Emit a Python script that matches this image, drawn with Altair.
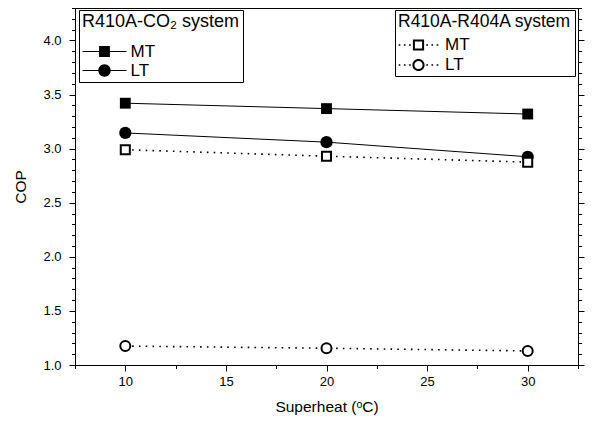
import altair as alt
import pandas as pd

# ---- data ----
superheat = [10, 20, 30]
co2_mt = [3.42, 3.37, 3.32]
co2_lt = [3.145, 3.06, 2.925]
r404_mt = [2.99, 2.93, 2.875]
r404_lt = [1.175, 1.155, 1.13]

series_names = ["MT", "LT"]
co2_title = "R410A-CO₂ system"
r404_title = "R410A-R404A system"
x_title = "Superheat (ᵒC)"
y_title = "COP"

x_ticks = [7.5, 10, 12.5, 15, 17.5, 20, 22.5, 25, 27.5, 30, 32.5]
y_ticks = [1.0, 1.1, 1.2, 1.3, 1.4, 1.5, 1.6, 1.7, 1.8, 1.9, 2.0, 2.1, 2.2,
           2.3, 2.4, 2.5, 2.6, 2.7, 2.8, 2.9, 3.0, 3.1, 3.2, 3.3, 3.4, 3.5,
           3.6, 3.7, 3.8, 3.9, 4.0, 4.1, 4.2, 4.3]

rows = []
for sysname, mt, lt in [("co2", co2_mt, co2_lt), ("r404", r404_mt, r404_lt)]:
    for s, vals in [("MT", mt), ("LT", lt)]:
        for xv, yv in zip(superheat, vals):
            rows.append(dict(system=sysname, series=s, superheat=xv, cop=yv))
df = pd.DataFrame(rows)

FONT = "Liberation Sans, Arial, sans-serif"

# ---- legend symbol paths (line + marker), filled black ----
def rect(x0, y0, x1, y1):
    return f"M{x0:.4f},{y0:.4f}H{x1:.4f}V{y1:.4f}H{x0:.4f}Z"

def rect_rev(x0, y0, x1, y1):
    return f"M{x0:.4f},{y0:.4f}V{y1:.4f}H{x1:.4f}V{y0:.4f}Z"

def circ(r, sweep):
    return (f"M{-r:.4f},0A{r:.4f},{r:.4f} 0 1,{sweep} {r:.4f},0"
            f"A{r:.4f},{r:.4f} 0 1,{sweep} {-r:.4f},0Z")

S = 16.0          # nominal legend symbol size (px), keeps rows compact
u = S / 2         # px per path unit

HW1 = 22.0        # half width of solid legend sample (px)
lh = 0.55 / u
sq1 = 5.4 / u
cr1 = 6.2 / u
e1 = HW1 / u
path_co2_mt = rect(-e1, -lh, -sq1, lh) + rect(sq1, -lh, e1, lh) + rect(-sq1, -sq1, sq1, sq1)
path_co2_lt = rect(-e1, -lh, -cr1 + 0.1, lh) + rect(cr1 - 0.1, -lh, e1, lh) + circ(cr1, 1)

HW2 = 20.0        # half width of dotted legend sample (px)
dh = 0.85 / u
dots = ""
for d in [8.6, 13.8, 19.0]:
    c = d / u
    dots += rect(-c - dh, -dh, -c + dh, dh) + rect(c - dh, -dh, c + dh, dh)
so, si = 5.6 / u, 3.6 / u
co, ci = 6.1 / u, 4.1 / u
path_r404_mt = dots + rect(-so, -so, so, so) + rect_rev(-si, -si, si, si)
path_r404_lt = dots + circ(co, 1) + circ(ci, 0)

# ---- scales & axes ----
xs = alt.Scale(domain=[7.5, 32.5], nice=False, zero=False)
ys = alt.Scale(domain=[1.0, 4.3], nice=False, zero=False)

x_major = "datum.value % 5 == 0"
y_major = "abs(datum.value * 2 - round(datum.value * 2)) < 0.0001"
x_tick = {"condition": {"test": x_major, "value": 6}, "value": 3.5}
y_tick = {"condition": {"test": y_major, "value": 6}, "value": 3.5}

common = dict(grid=False, domainColor="black", domainWidth=1, tickColor="black",
              tickWidth=1, labelFont=FONT, labelFontSize=13, labelColor="black",
              titleFont=FONT, titleFontSize=15.5, titleFontWeight="normal",
              titleColor="black", labelOverlap=False, labelFlush=False)

ax_bottom = alt.Axis(orient="bottom", values=x_ticks, tickSize=x_tick,
                     labelExpr=f"{x_major} ? format(datum.value, 'd') : ''",
                     title=x_title, labelPadding=4, titlePadding=11, **common)
ax_left = alt.Axis(orient="left", values=y_ticks, tickSize=y_tick,
                   labelExpr=f"{y_major} ? format(datum.value, '.1f') : ''",
                   title=y_title, labelPadding=8, titlePadding=14, **common)
ax_top = alt.Axis(orient="top", values=x_ticks, tickSize=x_tick, labels=False,
                  title=None, **common)
ax_right = alt.Axis(orient="right", values=y_ticks, tickSize=y_tick, labels=False,
                    title=None, **common)

base = alt.Chart(df)

axes_main = base.mark_point(opacity=0).encode(
    x=alt.X("superheat:Q", scale=xs, axis=ax_bottom),
    y=alt.Y("cop:Q", scale=ys, axis=ax_left),
)
axes_mirror = base.mark_point(opacity=0).encode(
    x=alt.X("superheat:Q", scale=xs, axis=ax_top),
    y=alt.Y("cop:Q", scale=ys, axis=ax_right),
)

def enc():
    return dict(x=alt.X("superheat:Q", scale=xs, axis=None),
                y=alt.Y("cop:Q", scale=ys, axis=None))

line_co2 = base.transform_filter(alt.datum.system == "co2").mark_line(
    color="black", strokeWidth=1).encode(detail="series:N", **enc())
line_r404 = base.transform_filter(alt.datum.system == "r404").mark_line(
    color="black", strokeWidth=1.6, strokeDash=[1.6, 5.2]).encode(detail="series:N", **enc())

def pts(sysname, s, shape, filled, size):
    m = base.transform_filter(
        (alt.datum.system == sysname) & (alt.datum.series == s))
    if filled:
        mk = m.mark_point(shape=shape, filled=True, color="black", size=size, opacity=1)
    else:
        mk = m.mark_point(shape=shape, filled=False, color="black", fill="white",
                          strokeWidth=2, size=size, opacity=1)
    return mk.encode(**enc())

p1 = pts("co2", "MT", "square", True, 118)
p2 = pts("co2", "LT", "circle", True, 150)
p3 = pts("r404", "MT", "square", False, 82)
p4 = pts("r404", "LT", "circle", False, 100)

leg_common = dict(orient="none", strokeColor="black", fillColor="white", padding=3,
                  titleFont=FONT, titleFontWeight="normal",
                  titleColor="black", labelFont=FONT, labelFontSize=17,
                  labelColor="black", symbolOpacity=1, symbolStrokeWidth=0,
                  symbolFillColor="black", cornerRadius=0, titleAnchor="start",
                  symbolSize=S * S)

leg_co2 = base.transform_filter(alt.datum.system == "co2").mark_point(
    filled=True, color="black", opacity=0, size=S * S).encode(
    shape=alt.Shape("series:N",
                    scale=alt.Scale(domain=series_names, range=[path_co2_mt, path_co2_lt]),
                    legend=alt.Legend(title=co2_title, legendX=4, legendY=2,
                                      titleFontSize=18,
                                      symbolOffset=HW1 - u,
                                      labelOffset=2 * HW1 - S - (HW1 - u) + 3.5,
                                      titlePadding=12, rowPadding=1,
                                      **leg_common)),
    **enc())
leg_r404 = base.transform_filter(alt.datum.system == "r404").mark_point(
    filled=True, color="black", opacity=0, size=S * S).encode(
    shape=alt.Shape("series:N",
                    scale=alt.Scale(domain=series_names, range=[path_r404_mt, path_r404_lt]),
                    legend=alt.Legend(title=r404_title, legendX=320, legendY=2,
                                      titleFontSize=17.5,
                                      symbolOffset=HW2 - u,
                                      labelOffset=2 * HW2 - S - (HW2 - u) + 6,
                                      titlePadding=6, rowPadding=2,
                                      **leg_common)),
    **enc())

chart = alt.layer(
    axes_main, axes_mirror, line_co2, line_r404, p1, p2, p3, p4, leg_co2, leg_r404
).resolve_scale(shape="independent").resolve_axis(
    x="independent", y="independent"
).properties(
    width=503, height=357,
    autosize=alt.AutoSizeParams(type="none"),
    padding={"left": 67, "top": 0, "right": 10, "bottom": 50},
).configure_view(stroke=None).configure(background="white")

chart.save("out.html", embed_options={"renderer": "svg", "actions": False})
